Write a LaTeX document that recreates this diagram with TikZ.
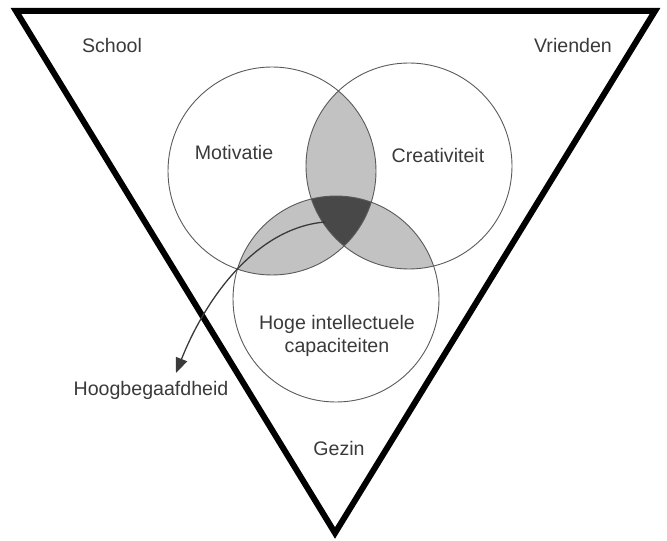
\documentclass[tikz,border=0pt]{standalone}
\usepackage{fontspec}
\setmainfont{Liberation Sans}
\usetikzlibrary{arrows.meta}
\definecolor{ink}{HTML}{3A3A3A}
\definecolor{lightfill}{HTML}{C2C2C2}
\definecolor{darkfill}{HTML}{484848}
\definecolor{ringc}{HTML}{5A5A5A}
\begin{document}
\begin{tikzpicture}[x=1bp,y=-1bp,
  lbl/.style={text=ink, font=\fontsize{19.6bp}{23bp}\selectfont, inner sep=0pt, align=center},
  ringline/.style={draw=ringc, line width=0.9bp},
  frame/.style={draw=black, line width=6bp, line join=miter},
  pointer/.style={draw=ink, line width=1.3bp, -{Triangle[length=15bp,width=12bp]}}]
\useasboundingbox (0,0) rectangle (667,541);
% shaded overlaps
\begin{scope}
  \clip (272,171) circle[radius=104];
  \fill[lightfill] (409,166) circle[radius=103];
  \fill[lightfill] (336,299) circle[radius=103];
\end{scope}
\begin{scope}
  \clip (409,166) circle[radius=103];
  \fill[lightfill] (336,299) circle[radius=103];
\end{scope}
\begin{scope}
  \clip (272,171) circle[radius=104];
  \clip (409,166) circle[radius=103];
  \fill[darkfill] (336,299) circle[radius=103];
\end{scope}
% circle outlines
\draw[ringline] (272,171) circle[radius=104];
\draw[ringline] (409,166) circle[radius=103];
\draw[ringline] (336,299) circle[radius=103];
% frame triangle
\coordinate (tl) at (16,11);
\coordinate (tr) at (655,11);
\coordinate (bt) at (335,533);
\draw[frame] (tl) -- (tr) -- (bt) -- cycle;
% labels
\node[lbl, anchor=base] (school) at (112,53) {School};
\node[lbl, anchor=base] (vrienden) at (573,53) {Vrienden};
\node[lbl, anchor=base] (motivatie) at (234,160) {Motivatie};
\node[lbl, anchor=base] (creativiteit) at (438,163) {Creativiteit};
\node[lbl] (hoge) at (337,336) {Hoge intellectuele\\capaciteiten};
\node[lbl, anchor=base] (gezin) at (339,455) {Gezin};
\node[lbl, anchor=base] (hoog) at (151,395) {Hoogbegaafdheid};
% arrow
\coordinate (core) at (325,222);
\coordinate (tip) at (176,373);
\draw[pointer] (core) .. controls (255,228) and (205,300) .. (tip);
\end{tikzpicture}
\end{document}
